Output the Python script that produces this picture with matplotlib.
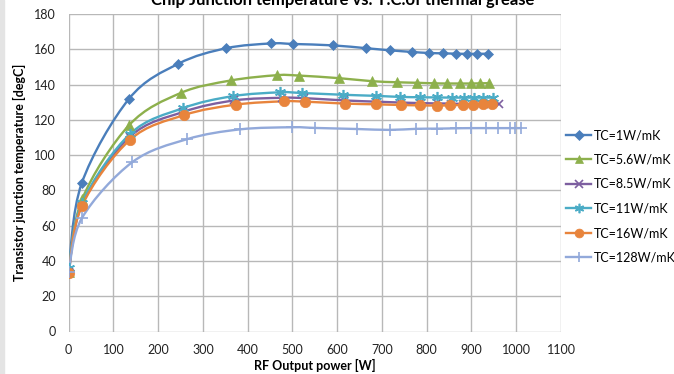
import numpy as np
import matplotlib
matplotlib.use("Agg")
import matplotlib.pyplot as plt
from matplotlib.path import Path
from matplotlib.patches import PathPatch, Rectangle
from matplotlib.lines import Line2D

plt.rcParams['font.family'] = ['Lato', 'DejaVu Sans']

# RF output power [W] and junction temperature [degC] per thermal grease TC
labels = ["TC=1W/mK", "TC=5.6W/mK", "TC=8.5W/mK", "TC=11W/mK", "TC=16W/mK", "TC=128W/mK"]

x_tc1 = [0, 29, 135, 245, 352, 452, 502, 591, 665, 719, 766, 804, 837, 866, 890, 913, 936]
y_tc1 = [35, 84, 132, 151.8, 160.6, 163.3, 163, 162.2, 160.6, 159.4, 158.5, 157.9, 157.7, 157.5, 157.4, 157.4, 157.5]

x_tc56 = [0, 30, 135, 250, 362, 465, 514, 605, 678, 733, 778, 816, 846, 875, 898, 920, 940]
y_tc56 = [34, 75, 117, 135.2, 142.3, 145.3, 145.1, 143.6, 141.9, 141.3, 141, 140.7, 140.6, 140.6, 140.6, 140.7, 140.8]

x_tc85 = [0, 30, 137, 256, 370, 476, 526, 616, 687, 742, 786, 822, 855, 882, 905, 928, 961]
y_tc85 = [34, 72, 110.5, 124.5, 131, 132.5, 132.3, 131, 130.3, 129.8, 129.5, 129.3, 129.2, 129, 129, 129, 128.9]

x_tc11 = [0, 30, 137, 255, 366, 472, 522, 613, 686, 740, 786, 822, 856, 883, 905, 926, 948]
y_tc11 = [36, 73, 112, 126.6, 133.4, 135.6, 135.2, 134.2, 133.6, 133, 132.8, 132.7, 132.6, 132.6, 132.6, 132.6, 132.6]

x_tc16 = [0, 29, 137, 258, 373, 480, 529, 618, 687, 743, 786, 822, 853, 880, 904, 925, 945]
y_tc16 = [33, 70.9, 108.7, 122.7, 128.6, 130.5, 130.3, 129.2, 128.8, 128.4, 128.2, 128.1, 128.2, 128.4, 128.5, 128.7, 128.9]

x_tc128 = [0, 30, 142, 264, 383, 499, 551, 644, 717, 776, 824, 866, 900, 933, 960, 986, 998, 1010]
y_tc128 = [34, 64.5, 96, 109, 114.6, 115.8, 115.4, 114.8, 114.3, 114.9, 115, 115.2, 115.3, 115.3, 115.3, 115.3, 115.3, 115.3]

colors = ['#4A7EBB', '#8DB04C', '#7D5FA0', '#4BACC6', '#E8843C', '#92A9DA']
markers = ['D', '^', 'x', (6, 2, 0), 'o', '+']
msizes = [5.5, 7.5, 6, 8, 7.5, 8]

series = [(x_tc1, y_tc1), (x_tc56, y_tc56), (x_tc85, y_tc85),
          (x_tc11, y_tc11), (x_tc16, y_tc16), (x_tc128, y_tc128)]


def smooth_path(xs, ys):
    # Excel-like smoothed line: cubic bezier through the points
    p = np.column_stack([xs, ys]).astype(float)
    verts = [p[0]]
    codes = [Path.MOVETO]
    n = len(p)
    for i in range(n - 1):
        p0 = p[i - 1] if i > 0 else p[i]
        p3 = p[i + 2] if i + 2 < n else p[i + 1]
        c1 = p[i] + (p[i + 1] - p0) / 6.0
        c2 = p[i + 1] - (p3 - p[i]) / 6.0
        verts += [c1, c2, p[i + 1]]
        codes += [Path.CURVE4] * 3
    return Path(verts, codes)


fig = plt.figure(figsize=(6.74, 3.74), dpi=100)
fig.patches.append(Rectangle((0, 0), 4 / 674, 1, transform=fig.transFigure,
                             color='#e4e4e4', zorder=0))
ax = fig.add_axes([68.7 / 674, 42.5 / 374, (561 - 68.7) / 674, (360 - 42.5) / 374])

handles = []
for (xs, ys), c, m, ms, lab in zip(series, colors, markers, msizes, labels):
    ax.add_patch(PathPatch(smooth_path(xs, ys), facecolor='none', edgecolor=c,
                           lw=1.7, zorder=3))
    mew = 1.2 if m in ('x', '+') or isinstance(m, tuple) else 0.5
    ax.plot(xs, ys, ls='none', marker=m, ms=ms, color=c, mew=mew, zorder=4)
    handles.append(Line2D([], [], color=c, lw=1.7, marker=m, ms=ms * 0.85, mew=mew))

ax.set_xlim(0, 1100)
ax.set_ylim(0, 180)
ax.set_xticks(np.arange(0, 1101, 100))
ax.set_yticks(np.arange(0, 181, 20))
ax.grid(True, color='#b8b8b8', lw=1)
ax.set_axisbelow(True)
for s in ax.spines.values():
    s.set_visible(False)
ax.tick_params(length=0, labelsize=9, pad=9, colors='#222222')

ax.set_xlabel("RF Output power [W]", fontsize=9, fontweight='bold', labelpad=2)
ax.set_ylabel("Transistor junction temperature [degC]", fontsize=9, fontweight='bold', labelpad=6)
fig.text(0.508, 1 - 5 / 374, "Chip Junction temperature vs. T.C.of thermal grease",
         ha='center', va='baseline', fontsize=12, fontweight='bold')

fig.legend(handles, labels, loc='upper left', bbox_to_anchor=(561 / 674, 1 - 124 / 374),
           frameon=False, fontsize=9, handlelength=2.0, handletextpad=0.2,
           labelspacing=1.0, borderaxespad=0)

fig.savefig("out.png", dpi=100)
